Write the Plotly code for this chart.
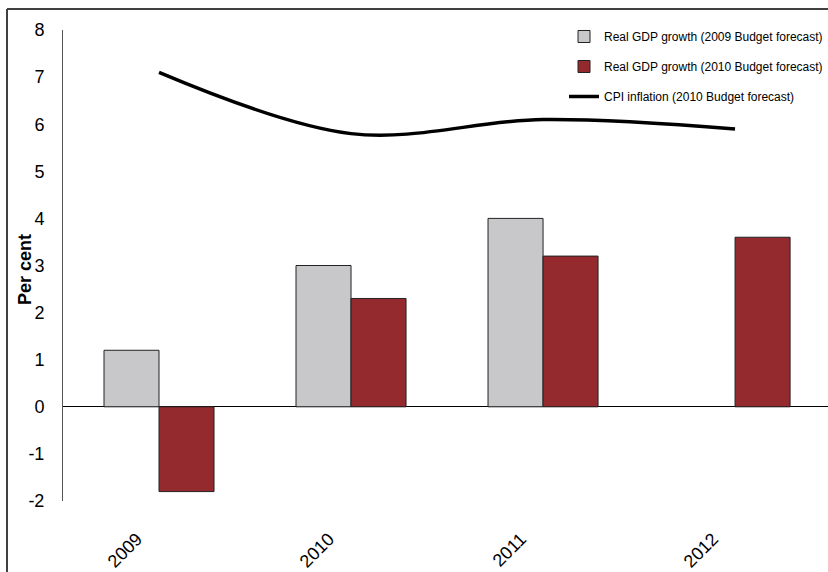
import plotly.graph_objects as go

years = ["2009", "2010", "2011", "2012"]
gdp_2009_budget = [1.2, 3.0, 4.0, None]
gdp_2010_budget = [-1.8, 2.3, 3.2, 3.6]
cpi_2010_budget = [7.1, 5.8, 6.1, 5.9]
y_ticks = [-2, -1, 0, 1, 2, 3, 4, 5, 6, 7, 8]
y_tick_labels = ["-2", "-1", "0", "1", "2", "3", "4", "5", "6", "7", "8"]

FONT = "Liberation Sans Narrow, Arial Narrow, Liberation Sans, Arial, sans-serif"

fig = go.Figure()
fig.add_trace(go.Bar(
    x=years, y=gdp_2009_budget, name="Real GDP growth (2009 Budget forecast)",
    marker=dict(color="#C8C8CA", line=dict(color="#222222", width=1)),
    legendgroup="a",
))
fig.add_trace(go.Bar(
    x=years, y=gdp_2010_budget, name="Real GDP growth (2010 Budget forecast)",
    marker=dict(color="#952A2E", line=dict(color="#222222", width=1)),
    legendgroup="b",
))
fig.add_trace(go.Scatter(
    x=years, y=cpi_2010_budget, name="CPI inflation (2010 Budget forecast)",
    mode="lines", line=dict(color="black", width=3.5, shape="spline", smoothing=1.0),
    legendgroup="c",
))

L, T, B = 63, 30, 71
W, H = 828, 572
pw = W - L
ph = H - T - B

fig.update_layout(
    width=W, height=H,
    margin=dict(l=L, r=0, t=T, b=B, pad=0, autoexpand=False),
    paper_bgcolor="white", plot_bgcolor="white",
    barmode="group", bargap=0.427, bargroupgap=0,
    font=dict(family=FONT, color="black"),
    hovermode=False,
    legend=dict(
        x=1.0, xanchor="right", y=1.017, yanchor="top",
        font=dict(size=12, family=FONT), tracegroupgap=11,
        bgcolor="rgba(0,0,0,0)", itemwidth=30,
    ),
    xaxis=dict(
        type="category", range=[-0.5, 3.484], automargin=False,
        tickangle=-45, tickfont=dict(size=18, family=FONT),
        showgrid=False, showline=False, ticks="",
        ticklabelstandoff=23, ticklabelshift=-22,
    ),
    yaxis=dict(
        range=[-2, 8], tickvals=y_ticks, ticktext=y_tick_labels, automargin=False,
        tickfont=dict(size=18, family=FONT),
        showgrid=False, showline=True, linecolor="#555555", linewidth=1,
        ticks="outside", ticklen=14, tickcolor="rgba(0,0,0,0)",
        zeroline=True, zerolinecolor="black", zerolinewidth=1.2,
    ),
    annotations=[dict(
        text="<b>Per cent</b>", textangle=-90, xref="paper", yref="paper",
        x=(25 - L) / pw, y=(H - B - 270) / ph, showarrow=False,
        font=dict(size=18, family=FONT), xanchor="center", yanchor="middle",
    )],
    shapes=[
        dict(type="line", xref="paper", yref="paper",
             x0=(7 - L) / pw, x1=(7 - L) / pw, y0=(H - B - 600) / ph, y1=(H - B - 9) / ph,
             line=dict(color="#404040", width=2)),
        dict(type="line", xref="paper", yref="paper",
             x0=(7 - L) / pw, x1=1.1, y0=(H - B - 9) / ph, y1=(H - B - 9) / ph,
             line=dict(color="#404040", width=2)),
    ],
)

fig.write_html("out.html")
